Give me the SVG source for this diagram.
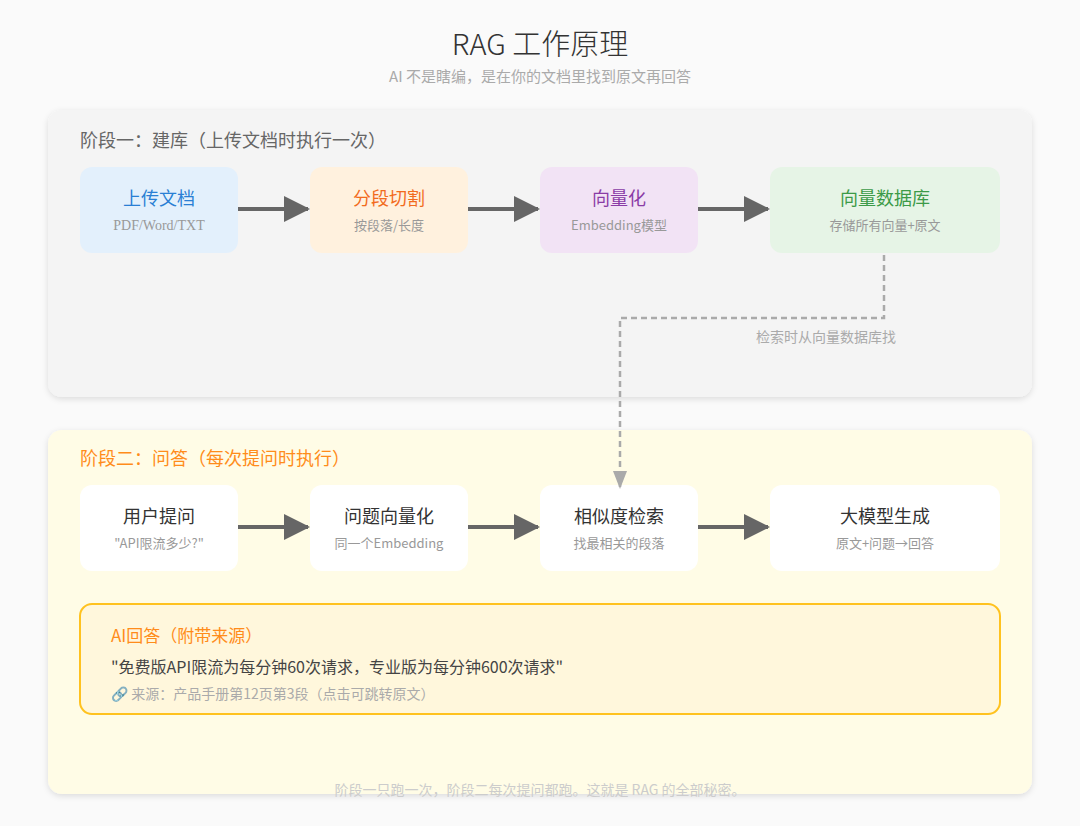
<svg xmlns="http://www.w3.org/2000/svg" width="1080" height="826" viewBox="0 0 1080 826">
<defs>
<filter id="sh" x="-5%" y="-5%" width="110%" height="115%"><feDropShadow dx="0" dy="2" stdDeviation="3" flood-color="#000" flood-opacity="0.12"/></filter>
<marker id="ah" markerWidth="26" markerHeight="26" refX="24" refY="13" orient="auto" markerUnits="userSpaceOnUse"><path d="M0,0 L26,13 L0,26 Z" fill="#666"/></marker>
<marker id="ah2" markerWidth="18" markerHeight="14" refX="17" refY="7" orient="auto" markerUnits="userSpaceOnUse"><path d="M0,0 L18,7 L0,14 Z" fill="#aaa"/></marker>
<style>
text{font-family:"Noto Sans CJK SC","Noto Sans",sans-serif}
.t{font-size:18px;text-anchor:middle}
.s{font-size:13px;text-anchor:middle;fill:#999}
</style>
</defs>
<rect width="1080" height="826" fill="#fafafa"/>
<text x="540" y="55" font-size="29" text-anchor="middle" fill="#333" font-weight="300">RAG 工作原理</text>
<text x="540" y="82" font-size="15" text-anchor="middle" fill="#aaa">AI 不是瞎编，是在你的文档里找到原文再回答</text>
<rect x="48" y="110" width="984" height="287" rx="14" fill="#f4f4f4" filter="url(#sh)"/>
<text x="80" y="147" font-size="18" fill="#666">阶段一：建库（上传文档时执行一次）</text>
<rect x="48" y="430" width="984" height="364" rx="14" fill="#fffce6" filter="url(#sh)"/>
<text x="80" y="465" font-size="18" fill="#ff8c1a">阶段二：问答（每次提问时执行）</text>
<g id="n1"><rect x="80" y="167" width="158" height="86" rx="12" fill="#e3f0fc"/><text class="t" x="159" y="205" fill="#2a7fd4">上传文档</text><text class="s" x="159" y="230" style="font-family:'Liberation Serif',serif;font-size:14px">PDF/Word/TXT</text></g>
<g id="n2"><rect x="310" y="167" width="158" height="86" rx="12" fill="#fff1de"/><text class="t" x="389" y="205" fill="#f26b1d">分段切割</text><text class="s" x="389" y="230">按段落/长度</text></g>
<g id="n3"><rect x="540" y="167" width="158" height="86" rx="12" fill="#f2e3f5"/><text class="t" x="619" y="205" fill="#8a3ca6">向量化</text><text class="s" x="619" y="230">Embedding模型</text></g>
<g id="n4"><rect x="770" y="167" width="230" height="86" rx="12" fill="#e6f4e6"/><text class="t" x="885" y="205" fill="#3c9a48">向量数据库</text><text class="s" x="885" y="230">存储所有向量+原文</text></g>
<g id="n5"><rect x="80" y="485" width="158" height="86" rx="12" fill="#fff"/><text class="t" x="159" y="523" fill="#333">用户提问</text><text class="s" x="159" y="548">"API限流多少?"</text></g>
<g id="n6"><rect x="310" y="485" width="158" height="86" rx="12" fill="#fff"/><text class="t" x="389" y="523" fill="#333">问题向量化</text><text class="s" x="389" y="548">同一个Embedding</text></g>
<g id="n7"><rect x="540" y="485" width="158" height="86" rx="12" fill="#fff"/><text class="t" x="619" y="523" fill="#333">相似度检索</text><text class="s" x="619" y="548">找最相关的段落</text></g>
<g id="n8"><rect x="770" y="485" width="230" height="86" rx="12" fill="#fff"/><text class="t" x="885" y="523" fill="#333">大模型生成</text><text class="s" x="885" y="548">原文+问题→回答</text></g>
<g id="connectors" stroke="#666" stroke-width="4" fill="none">
<line x1="238" y1="209" x2="308" y2="209" marker-end="url(#ah)"/>
<line x1="468" y1="209" x2="538" y2="209" marker-end="url(#ah)"/>
<line x1="698" y1="209" x2="768" y2="209" marker-end="url(#ah)"/>
<line x1="238" y1="527" x2="308" y2="527" marker-end="url(#ah)"/>
<line x1="468" y1="527" x2="538" y2="527" marker-end="url(#ah)"/>
<line x1="698" y1="527" x2="768" y2="527" marker-end="url(#ah)"/>
<path d="M884,255 V318 H620 V488" stroke="#aaa" stroke-width="2.5" stroke-dasharray="6,4" marker-end="url(#ah2)"/>
</g>
<text x="826" y="342" font-size="14" text-anchor="middle" fill="#aaa">检索时从向量数据库找</text>
<g id="answer">
<rect x="80" y="604" width="920" height="110" rx="12" fill="#fff7dc" stroke="#ffc21f" stroke-width="2"/>
<text x="111" y="642" font-size="17" fill="#ff8c1a">AI回答（附带来源）</text>
<text x="111" y="673" font-size="16" fill="#444">"免费版API限流为每分钟60次请求，专业版为每分钟600次请求"</text>
<text x="111" y="699" font-size="14" fill="#aaa">🔗 来源：产品手册第12页第3段（点击可跳转原文）</text>
</g>
<text x="540" y="795" font-size="14" text-anchor="middle" fill="#ccc">阶段一只跑一次，阶段二每次提问都跑。这就是 RAG 的全部秘密。</text>
</svg>
